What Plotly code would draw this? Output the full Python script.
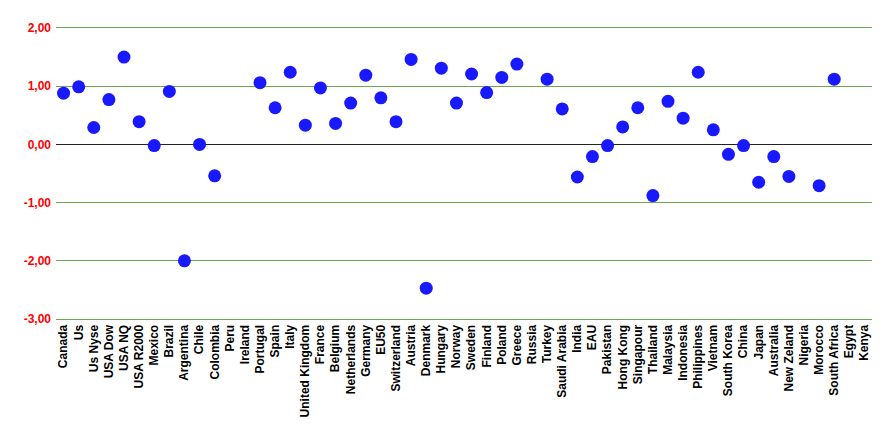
import plotly.graph_objects as go

countries = ["Canada", "Us", "Us Nyse", "USA Dow", "USA NQ", "USA R2000", "Mexico", "Brazil",
             "Argentina", "Chile", "Colombia", "Peru", "Ireland", "Portugal", "Spain", "Italy",
             "United Kingdom", "France", "Belgium", "Netherlands", "Germany", "EU50", "Switzerland",
             "Austria", "Denmark", "Hungary", "Norway", "Sweden", "Finland", "Poland", "Greece",
             "Russia", "Turkey", "Saudi Arabia", "India", "EAU", "Pakistan", "Hong Kong", "Singapour",
             "Thailand", "Malaysia", "Indonesia", "Philippines", "Vietnam", "South Korea", "China",
             "Japan", "Australia", "New Zeland", "Nigeria", "Morocco", "South Africa", "Egypt", "Kenya"]

values = [0.88, 0.99, 0.29, 0.77, 1.50, 0.39, -0.02, 0.91,
          -2.00, 0.00, -0.54, None, None, 1.06, 0.63, 1.24,
          0.33, 0.97, 0.36, 0.71, 1.19, 0.80, 0.39,
          1.46, -2.47, 1.31, 0.71, 1.21, 0.89, 1.15, 1.38,
          None, 1.12, 0.61, -0.56, -0.21, -0.02, 0.30, 0.63,
          -0.88, 0.74, 0.45, 1.24, 0.25, -0.17, -0.02,
          -0.65, -0.21, -0.55, None, -0.71, 1.12, None, None]

y_tickvals = [-3, -2, -1, 0, 1, 2]
y_ticktext = ["-3,00", "-2,00", "-1,00", "0,00", "1,00", "2,00"]

fig = go.Figure()
fig.add_trace(go.Scatter(
    x=countries, y=values, mode="markers",
    marker=dict(size=13, color="#1919FF", line=dict(width=0)),
    cliponaxis=False,
))

fig.update_layout(
    width=877, height=420,
    margin=dict(l=48, r=13, t=20, b=109),
    plot_bgcolor="white", paper_bgcolor="white",
    showlegend=False,
    font=dict(family="Liberation Sans, Arial, sans-serif"),
)
fig.update_xaxes(
    type="category", categoryorder="array", categoryarray=countries,
    tickmode="array", tickvals=countries, ticktext=countries,
    tickangle=-90, showgrid=False, ticks="", automargin=False,
    tickfont=dict(family="Liberation Sans, Arial", size=12, color="black", weight="bold"),
    showline=True, linecolor="#6AA84F", linewidth=1, mirror=True,
    range=[-0.5, len(countries) - 0.5],
)
fig.update_yaxes(
    range=[-3, 2], tickvals=y_tickvals, ticktext=y_ticktext, automargin=False,
    showgrid=True, gridcolor="#6AA84F", gridwidth=1,
    zeroline=True, zerolinecolor="#222222", zerolinewidth=1,
    tickfont=dict(family="Liberation Sans, Arial", size=12, color="red", weight="bold"),
    ticks="", ticklabelstandoff=4,
)

fig.write_html("out.html")
